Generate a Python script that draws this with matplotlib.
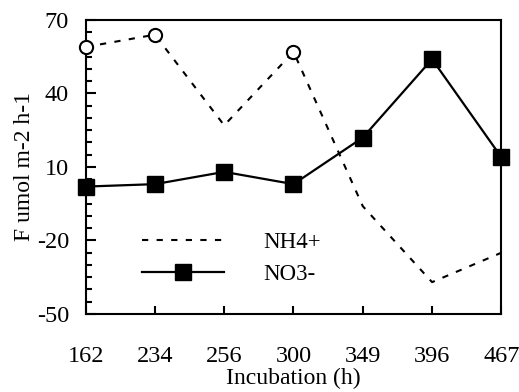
import numpy as np
import matplotlib.pyplot as plt

plt.rcParams['font.family'] = ['Liberation Serif', 'DejaVu Serif']
plt.rcParams['axes.unicode_minus'] = False

hours = ['162', '234', '256', '300', '349', '396', '467']
nh4 = [59, 64, 27, 57, -6, -37, -25]
no3 = [2, 3, 8, 3, 22, 54, 14]
nh4_circles = [0, 1, 3]  # points drawn with open circles

x = np.arange(len(hours))

fig, ax = plt.subplots(figsize=(5.19, 3.92), dpi=100)
fig.subplots_adjust(left=0.165, right=0.966, top=0.949, bottom=0.199)

ax.plot(x, nh4, color='black', linestyle=(0, (3, 4)), linewidth=1.5, label='NH4+')
ax.plot(x[nh4_circles], np.array(nh4)[nh4_circles], 'o', markersize=9.5,
        markerfacecolor='white', markeredgecolor='black', markeredgewidth=1.5,
        clip_on=False, zorder=4)
ax.plot(x, no3, color='black', linewidth=1.6, marker='s', markersize=11,
        markerfacecolor='black', label='NO3-', clip_on=False, zorder=5)

ax.set_xlim(0, 6)
ax.set_ylim(-50, 70)
ax.set_xticks(x)
ax.set_xticklabels(hours)
ax.set_yticks([-50, -20, 10, 40, 70])
ax.set_yticks(np.arange(-50, 71, 5), minor=True)

ax.tick_params(axis='both', which='both', direction='in', labelsize=17.5)
ax.tick_params(axis='x', which='major', length=6, width=1.5, pad=23)
ax.tick_params(axis='y', which='major', length=7, width=1.5, pad=12)
ax.tick_params(axis='y', which='minor', length=4, width=1.5)
ax.tick_params(axis='x', which='minor', bottom=False)

for s in ax.spines.values():
    s.set_linewidth(1.5)

ax.set_xlabel('Incubation (h)', fontsize=17, labelpad=1)
ax.set_ylabel('F umol m-2 h-1', fontsize=17, labelpad=1)

ax.legend(loc='lower left', bbox_to_anchor=(0.085, 0.03), frameon=False,
          fontsize=16.5, handlelength=3.6, handletextpad=1.7, labelspacing=0.45)

fig.savefig('out.png')
